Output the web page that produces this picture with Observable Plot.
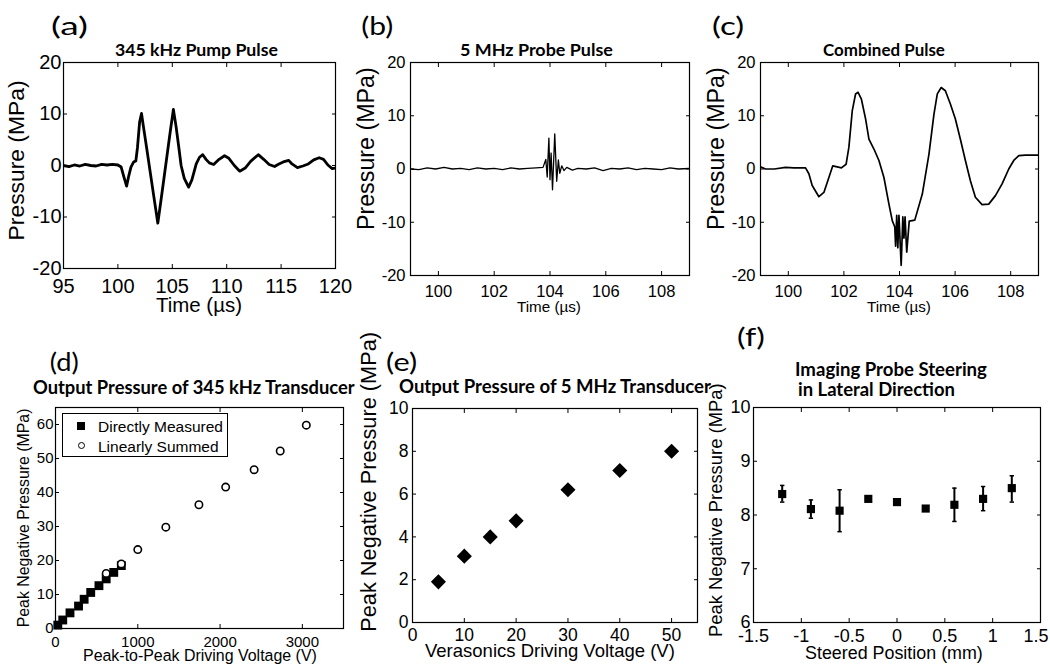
<!DOCTYPE html>
<html><head><meta charset="utf-8">
<script src="https://cdn.jsdelivr.net/npm/d3@7"></script>
<script src="https://cdn.jsdelivr.net/npm/@observablehq/plot@0.6"></script>
<style>
html,body{margin:0;padding:0;background:#fff;}
#fig{position:relative;width:1050px;height:666px;overflow:hidden;background:#fff;}
.t{position:absolute;white-space:nowrap;line-height:1;color:#000;transform-origin:50% 50%;}
</style></head><body><div id="fig"></div>
<script>
// ---------- DATA ----------
// (a) 345 kHz pump pulse
const pumpTime = [95, 95.5, 96, 96.5, 97, 97.5, 98, 98.5, 99, 99.5, 100, 100.3, 100.55, 100.8, 101.0, 101.2, 101.45, 101.65, 101.8, 102.0, 102.17, 102.35, 102.65, 102.95, 103.3, 103.67, 103.95, 104.2, 104.5, 104.8, 105.1, 105.35, 105.6, 105.81, 106.1, 106.5, 106.8, 107.2, 107.5, 107.8, 108.1, 108.4, 108.8, 109.3, 109.8, 110.2, 110.7, 111.2, 111.7, 112.2, 112.9, 113.4, 113.9, 114.4, 114.8, 115.2, 115.7, 116.0, 116.5, 117.0, 117.5, 118.0, 118.5, 118.9, 119.3, 119.7, 120];
const pumpPressure = [0.0, -0.2, 0.1, -0.1, 0.2, 0.0, -0.1, 0.2, 0.1, 0.2, 0.1, -0.3, -2.2, -4.0, -2.0, -0.3, 0.7, 0.9, 3.5, 8.5, 10.1, 7.5, 3.3, -1.0, -6.0, -11.2, -6.9, -3.0, 1.7, 6.4, 10.9, 7.5, 3.5, 0.0, -2.5, -4.2, -2.8, 0.3, 1.6, 2.1, 1.2, 0.5, 0.2, 1.2, 1.9, 1.4, 0.0, -1.1, -0.5, 0.8, 2.1, 1.2, 0.2, -0.2, 0.3, 0.7, 1.0, 0.3, -0.4, -0.1, 0.3, 1.1, 1.5, 1.2, 0.1, -0.6, -0.5];

// (b) 5 MHz probe pulse
const probeTime = [99, 99.3, 99.6, 99.9, 100.2, 100.5, 100.8, 101.1, 101.4, 101.7, 102.0, 102.3, 102.6, 102.9, 103.2, 103.5,
  103.75, 103.85, 103.9, 103.96, 104.0, 104.04, 104.09, 104.17, 104.24, 104.3, 104.35, 104.42, 104.5,
  104.6, 104.8, 105.0, 105.3, 105.6, 105.9, 106.2, 106.5, 106.8, 107.1, 107.4, 107.7, 108.0, 108.3, 108.6, 109];
const probePressure = [0, -0.1, 0.2, 0, 0.3, 0, 0.1, -0.1, 0.2, 0, 0.1, -0.1, 0.2, 0, 0.1, 0.2,
  0.3, 1.8, -1.5, 5.8, -2.0, 3.0, -3.9, 6.6, -2.3, 1.7, -0.8, 0.6, -0.3,
  0.3, -0.2, 0.1, 0.0, 0.2, -0.3, 0.1, 0.0, 0.2, -0.1, 0.1, 0.0, -0.1, 0.2, 0.0, 0.1];

// (c) combined pulse
const combTime = [99, 99.18, 99.5, 99.9, 100.2, 100.62, 100.74, 100.86, 101.1, 101.28, 101.46, 101.6, 101.76, 101.91, 102.08, 102.18, 102.3, 102.42, 102.51, 102.63, 102.78, 102.9, 103.08, 103.26, 103.44, 103.62, 103.74, 103.83, 103.86, 103.9, 103.94, 103.98, 104.06, 104.12, 104.16, 104.2, 104.26, 104.35, 104.55, 104.82, 105.06, 105.24, 105.36, 105.5, 105.65, 105.83, 106.01, 106.19, 106.37, 106.55, 106.73, 106.97, 107.21, 107.45, 107.69, 107.93, 108.11, 108.29, 108.53, 109];
const combPressure = [0.4, 0, 0.0, 0.3, 0.2, 0.2, -0.9, -3.1, -5.2, -4.4, -1.6, 0.6, 0.4, 0.2, 0.9, 4.1, 10.9, 14.1, 14.4, 13.1, 9.4, 5.6, 3.75, 1.6, -1.6, -6.6, -9.7, -10.9, -14.5, -8.7, -14.8, -8.7, -18.1, -9.0, -13.0, -9.0, -15.6, -9.8, -9.6, -4.7, 2.8, 10.3, 14.1, 15.3, 14.7, 12.2, 9.4, 5.6, 1.6, -2.2, -5.3, -6.7, -6.6, -5.0, -2.8, 0, 1.6, 2.5, 2.6, 2.6];

// (d) output pressure of 345 kHz transducer
const directVoltage = [28, 88, 176, 280, 348, 428, 528, 616, 708, 800];
const directPressure = [1.0, 2.5, 4.6, 6.6, 8.6, 10.6, 12.6, 14.6, 16.5, 18.5];
const summedVoltage = [616, 800, 1000, 1341, 1743, 2068, 2414, 2731, 3048];
const summedPressure = [16.2, 19.0, 23.2, 29.8, 36.4, 41.6, 46.7, 52.2, 59.8];

// (e) output pressure of 5 MHz transducer
const veraVoltage = [5, 10, 15, 20, 30, 40, 50];
const veraPressure = [1.9, 3.1, 4.0, 4.75, 6.2, 7.1, 8.0];

// (f) imaging probe steering
const steerPos = [-1.2, -0.9, -0.6, -0.3, 0, 0.3, 0.6, 0.9, 1.2];
const steerMean = [8.39, 8.11, 8.08, 8.30, 8.24, 8.12, 8.19, 8.30, 8.50];
const steerLow = [8.24, 7.94, 7.69, 8.26, 8.20, 8.08, 7.88, 8.08, 8.24];
const steerHigh = [8.55, 8.28, 8.47, 8.34, 8.28, 8.16, 8.50, 8.53, 8.73];

// tick values
const ticksA_x = [95, 100, 105, 110, 115, 120];
const ticksPulse_y = [-20, -10, 0, 10, 20];
const ticksBC_x = [100, 102, 104, 106, 108];
const ticksD_x = [0, 1000, 2000, 3000];
const ticksD_y = [0, 10, 20, 30, 40, 50, 60];
const ticksE_x = [0, 10, 20, 30, 40, 50];
const ticksE_y = [0, 2, 4, 6, 8, 10];
const ticksF_x = [-1.5, -1, -0.5, 0, 0.5, 1, 1.5];
const ticksF_y = [6, 7, 8, 9, 10];

// ---------- TABLES ----------
const zip = (xs, ys) => xs.map((x, i) => ({x, y: ys[i]}));
const pump = zip(pumpTime, pumpPressure);
const probe = zip(probeTime, probePressure);
const comb = zip(combTime, combPressure);
const direct = zip(directVoltage, directPressure);
const summed = zip(summedVoltage, summedPressure);
const vera = zip(veraVoltage, veraPressure);
const steer = steerPos.map((x, i) => ({x, y: steerMean[i], lo: steerLow[i], hi: steerHigh[i]}));

// ---------- DRAW ----------
const fig = document.getElementById("fig");
const FONT = "'Liberation Sans', Arial, sans-serif";
const TFONT = "Lato, 'Open Sans', sans-serif";
const fmt = d => String(d);

function panel(o) {
  const mL = 70, mR = 14, mT = 14, mB = 36, tk = 4;
  const [fl, fr, ft, fb] = o.frame;
  const xLab = o.xLabelTicks || o.xTicks;
  const extra = o.lastTick != null
    ? [Plot.axisX([o.lastTick], {anchor: "bottom", tickSize: 0, tickPadding: tk + o.xgap, tickFormat: fmt, label: null, fontSize: o.fs, textAnchor: "end", dx: o.lastDx})]
    : [];
  const svg = Plot.plot({
    width: fr - fl + mL + mR, height: fb - ft + mT + mB,
    marginLeft: mL, marginRight: mR, marginTop: mT, marginBottom: mB,
    x: {domain: o.xDomain}, y: {domain: o.yDomain},
    style: {fontFamily: FONT, fontSize: o.fs + "px", background: "transparent", overflow: "visible", color: "#000"},
    marks: [
      ...o.marks,
      Plot.frame({stroke: "#000", strokeWidth: 1.2}),
      Plot.axisX(o.xTicks, {anchor: "bottom", tickSize: -tk, tickFormat: () => "", label: null}),
      Plot.axisX(xLab, {anchor: "bottom", tickSize: 0, tickPadding: tk + o.xgap, tickFormat: fmt, label: null, fontSize: o.fs}),
      ...extra,
      Plot.axisX(o.xTicks, {anchor: "top", tickSize: -tk, tickFormat: () => "", label: null}),
      Plot.axisY(o.yTicks, {anchor: "left", tickSize: -tk, tickPadding: tk + o.ygap, tickFormat: fmt, label: null, fontSize: o.fs}),
      Plot.axisY(o.yTicks, {anchor: "right", tickSize: -tk, tickFormat: () => "", label: null})
    ]
  });
  svg.style.position = "absolute";
  svg.style.left = (fl - mL) + "px";
  svg.style.top = (ft - mT) + "px";
  svg.style.maxWidth = "none";
  fig.appendChild(svg);
}

function text(txt, o) {
  const d = document.createElement("div");
  d.className = "t";
  d.textContent = txt;
  d.style.fontFamily = o.font || FONT;
  d.style.fontWeight = o.bold ? "700" : "400";
  const s0 = o.size || 20;
  d.style.fontSize = s0 + "px";
  fig.appendChild(d);
  let tf = "";
  if (o.width) {
    const w0 = d.getBoundingClientRect().width;
    if (o.stretch) tf = "scaleX(" + (o.width / w0) + ")";
    else d.style.fontSize = (s0 * o.width / w0) + "px";
  }
  const w = d.offsetWidth, h = d.offsetHeight;
  d.style.left = (o.cx - w / 2) + "px";
  d.style.top = (o.cy - h / 2) + "px";
  if (o.rotate) tf = "rotate(-90deg) " + tf;
  if (tf) d.style.transform = tf;
  return d;
}

// (a)
panel({frame: [63, 335, 62, 268], xDomain: [95, 120], yDomain: [-20, 20], xTicks: ticksA_x, yTicks: ticksPulse_y, fs: 20, xgap: 6, ygap: 2,
  marks: [Plot.line(pump, {x: "x", y: "y", stroke: "#000", strokeWidth: 2.8, clip: true})]});
// (b)
panel({frame: [410, 689, 62, 275], xDomain: [99, 109], yDomain: [-20, 20], xTicks: ticksBC_x, yTicks: ticksPulse_y, fs: 16.5, xgap: 6, ygap: 5,
  marks: [Plot.line(probe, {x: "x", y: "y", stroke: "#000", strokeWidth: 1.3, clip: true})]});
// (c)
panel({frame: [760, 1038, 62, 275], xDomain: [99, 109], yDomain: [-20, 20], xTicks: ticksBC_x, yTicks: ticksPulse_y, fs: 16.5, xgap: 6, ygap: 5,
  marks: [Plot.line(comb, {x: "x", y: "y", stroke: "#000", strokeWidth: 1.7, clip: true})]});
// (d)
panel({frame: [55, 343, 407, 628], xDomain: [0, 3500], yDomain: [0, 65], xTicks: ticksD_x, yTicks: ticksD_y, fs: 15, xgap: 4, ygap: 2,
  marks: [
    Plot.dot(direct, {x: "x", y: "y", symbol: "square", r: 5, fill: "#000", stroke: "none"}),
    Plot.dot(summed, {x: "x", y: "y", symbol: "circle", r: 3.7, fill: "#fff", stroke: "#000", strokeWidth: 1.6})
  ]});
// (e)
panel({frame: [412, 697, 408, 622], xDomain: [0, 55], yDomain: [0, 10], xTicks: ticksE_x, yTicks: ticksE_y, fs: 17.5, xgap: 2, ygap: 4,
  marks: [Plot.dot(vera, {x: "x", y: "y", symbol: "diamond2", r: 6.8, fill: "#000", stroke: "none"})]});
// (f)
const capSymbol = {draw(ctx, size) { const w = Math.sqrt(size / Math.PI); ctx.moveTo(-w, 0); ctx.lineTo(w, 0); }};
panel({frame: [753, 1040, 407, 622], xDomain: [-1.5, 1.5], yDomain: [6, 10], xTicks: ticksF_x, xLabelTicks: ticksF_x.slice(0, -1),
  lastTick: ticksF_x[ticksF_x.length - 1], lastDx: 8, yTicks: ticksF_y, fs: 18, xgap: 3, ygap: 3,
  marks: [
    Plot.ruleX(steer, {x: "x", y1: "lo", y2: "hi", stroke: "#000", strokeWidth: 2}),
    Plot.dot(steer, {x: "x", y: "lo", symbol: capSymbol, r: 2.2, fill: "none", stroke: "#000", strokeWidth: 1.5}),
    Plot.dot(steer, {x: "x", y: "hi", symbol: capSymbol, r: 2.2, fill: "none", stroke: "#000", strokeWidth: 1.5}),
    Plot.dot(steer, {x: "x", y: "y", symbol: "square", r: 4.6, fill: "#000", stroke: "none"})
  ]});

// panel letters
text("(a)", {cx: 69, cy: 25, font: TFONT, size: 25, width: 37, stretch: true});
text("(b)", {cx: 377.5, cy: 25, font: TFONT, size: 25, width: 32, stretch: true});
text("(c)", {cx: 728, cy: 25, font: TFONT, size: 25, width: 32, stretch: true});
text("(d)", {cx: 64, cy: 361, font: TFONT, size: 25, width: 29, stretch: true});
text("(e)", {cx: 401, cy: 361, font: TFONT, size: 25, width: 31, stretch: true});
text("(f)", {cx: 751, cy: 336, font: TFONT, size: 25, width: 28, stretch: true});

// titles
text("345 kHz Pump Pulse", {cx: 196.5, cy: 50, font: TFONT, bold: true, width: 163});
text("5 MHz Probe Pulse", {cx: 536.5, cy: 50, font: TFONT, bold: true, width: 153});
text("Combined Pulse", {cx: 884, cy: 50, font: TFONT, bold: true, width: 122});
text("Output Pressure of 345 kHz Transducer", {cx: 194, cy: 386.5, font: TFONT, bold: true, width: 322});
text("Output Pressure of 5 MHz Transducer", {cx: 555, cy: 386.5, font: TFONT, bold: true, width: 312});
text("Imaging Probe Steering", {cx: 891, cy: 369, font: TFONT, bold: true, width: 192});
text("in Lateral Direction", {cx: 876.5, cy: 389, font: TFONT, bold: true, width: 157});

// axis labels
text("Pressure (MPa)", {cx: 16, cy: 160, width: 160, rotate: true});
text("Time (\u00b5s)", {cx: 199, cy: 305, width: 86});
text("Pressure (MPa)", {cx: 366, cy: 148.5, width: 163, rotate: true});
text("Time (\u00b5s)", {cx: 549, cy: 306.5, width: 64});
text("Pressure (MPa)", {cx: 716, cy: 148.5, width: 163, rotate: true});
text("Time (\u00b5s)", {cx: 899, cy: 306.5, width: 64});
text("Peak Negative Pressure (MPa)", {cx: 24.5, cy: 517.5, width: 219, rotate: true});
text("Peak-to-Peak Driving Voltage (V)", {cx: 200, cy: 656, width: 234});
text("Peak Negative Pressure (MPa)", {cx: 369, cy: 482, width: 300, rotate: true});
text("Verasonics Driving Voltage (V)", {cx: 550, cy: 651, width: 250});
text("Peak Negative Pressure (MPa)", {cx: 716, cy: 510, width: 254, rotate: true});
text("Steered Position (mm)", {cx: 894, cy: 654, width: 178});

// legend for (d)
const lg = document.createElement("div");
lg.style.cssText = "position:absolute;left:62px;top:413px;width:166px;height:44px;border:1px solid #000;background:#fff;box-sizing:border-box;";
fig.appendChild(lg);
const sq = document.createElement("div");
sq.style.cssText = "position:absolute;left:14px;top:8px;width:8px;height:8px;background:#000;";
lg.appendChild(sq);
const ci = document.createElement("div");
ci.style.cssText = "position:absolute;left:14.5px;top:28px;width:7px;height:7px;border:1.5px solid #000;border-radius:50%;box-sizing:border-box;";
lg.appendChild(ci);
[["Directly Measured", 13], ["Linearly Summed", 33]].forEach(([s, cy]) => {
  const d = document.createElement("div");
  d.textContent = s;
  d.style.cssText = "position:absolute;left:35px;white-space:nowrap;line-height:1;font-family:" + FONT + ";font-size:15.5px;color:#000;";
  lg.appendChild(d);
  d.style.top = (cy - d.offsetHeight / 2) + "px";
});
</script></body></html>
